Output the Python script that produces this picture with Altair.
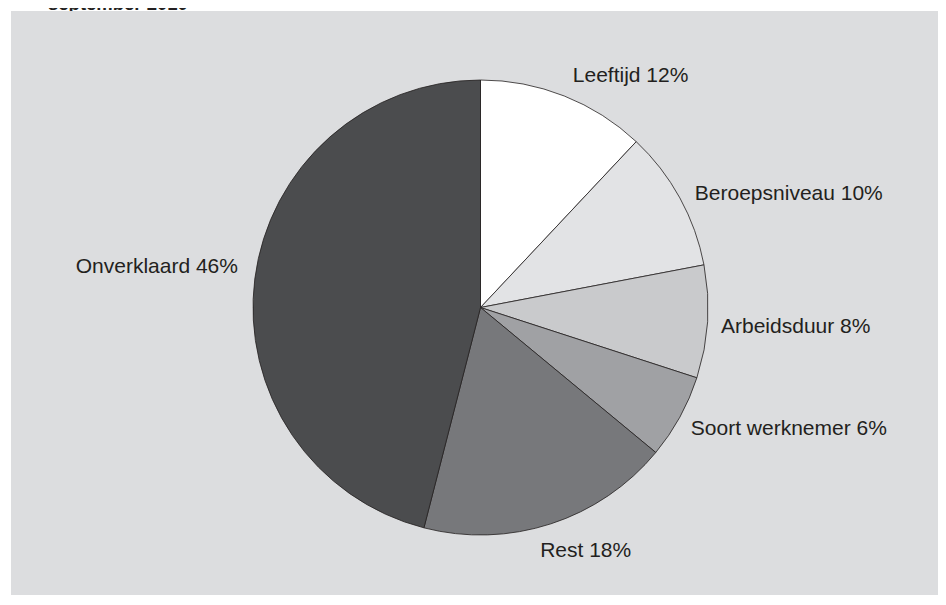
import altair as alt
import pandas as pd

# ---- data ----
categories = ["Leeftijd", "Beroepsniveau", "Arbeidsduur", "Soort werknemer", "Rest", "Onverklaard"]
shares = [12, 10, 8, 6, 18, 46]
colors = ["#ffffff", "#e2e3e5", "#c9cacc", "#a0a1a4", "#77787b", "#4b4c4e"]
title_text = "september 2010"

df = pd.DataFrame({"cat": categories, "share": shares, "idx": list(range(len(categories)))})
df["label"] = [f"{c} {s}%" for c, s in zip(categories, shares)]

# ---- layout ----
W, H = 930, 587          # svg size (fits the window without scrollbars)
CX, CY = 472.5, 299.5
R = 227.5
FONT = "Liberation Sans"
INK = "#231f20"

base = alt.Chart(df).encode(
    theta=alt.Theta("share:Q", stack=True),
    order=alt.Order("idx:Q"),
)

title = alt.Chart(pd.DataFrame({"t": [title_text]})).mark_text(
    align="left", baseline="alphabetic", font=FONT, fontSize=18.5,
    fontWeight="bold", color=INK,
).encode(x=alt.value(40), y=alt.value(2), text="t:N")

panel = alt.Chart(pd.DataFrame({"a": [0]})).mark_rect(color="#dcdddf").encode(
    x=alt.value(3), x2=alt.value(W), y=alt.value(3), y2=alt.value(H)
)

pie = base.mark_arc(radius=R, stroke=INK, strokeWidth=0.8).encode(
    color=alt.Color("cat:N", scale=alt.Scale(domain=categories, range=colors), legend=None),
    x=alt.value(CX),
    y=alt.value(CY),
)

# label placement tweaks (dx, dy, align) around the slice mid-angle
label_style = {
    "Leeftijd": (1, -1, "left"),
    "Beroepsniveau": (-3, 6, "left"),
    "Arbeidsduur": (-7, 4, "left"),
    "Soort werknemer": (-7, 2, "left"),
    "Rest": (-17, 8, "left"),
    "Onverklaard": (3.5, -9, "right"),
}

layers = [title, panel, pie]
for cat, (dx, dy, align) in label_style.items():
    layers.append(
        base.mark_text(
            radius=248, align=align, baseline="middle", dx=dx, dy=dy,
            font=FONT, fontSize=21, color=INK,
        ).encode(
            text=alt.condition(f"datum.cat == '{cat}'", alt.Text("label:N"), alt.value("")),
            x=alt.value(CX),
            y=alt.value(CY),
        )
    )

chart = alt.layer(*layers).properties(
    width=W, height=H, autosize=alt.AutoSizeParams(type="none"), padding=0,
    background="#ffffff",
).configure_view(strokeWidth=0)

chart.save("out.html", embed_options={"renderer": "svg", "actions": False})
